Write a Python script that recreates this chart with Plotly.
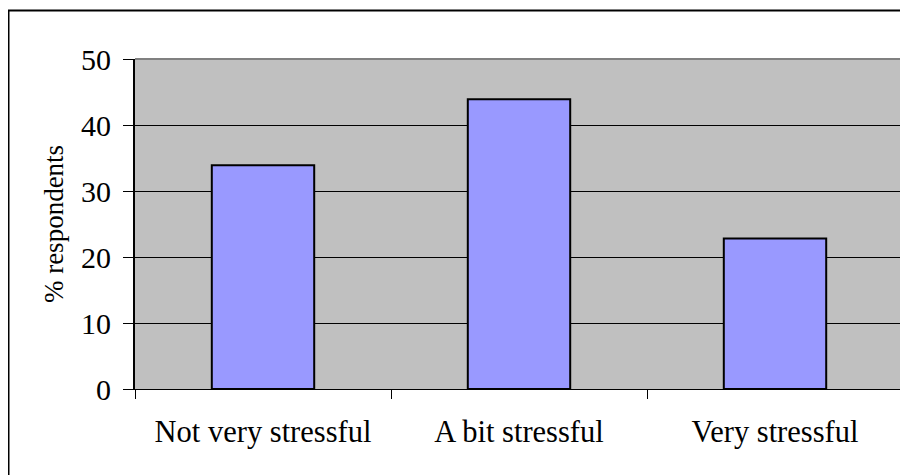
import plotly.graph_objects as go

categories = ["Not very stressful", "A bit stressful", "Very stressful"]
values = [33.9, 43.9, 22.8]
y_ticks = [0, 10, 20, 30, 40, 50]
y_title = "% respondents"

OFF = 8  # default page body margin
W, H = 908 - OFF, 475 - OFF
L, R, T, B = 135 - OFF, 5, 59 - OFF, 86
pw, ph = W - L - R, H - T - B

def px(x):
    return (x - OFF - L) / pw

def py(y):
    return (H - B - (y - OFF)) / ph

fig = go.Figure(go.Bar(
    x=categories, y=values,
    marker=dict(color="#9999FF", line=dict(color="black", width=2)),
    width=0.4,
))

font = dict(family="Liberation Serif, Times New Roman, serif", color="black")

fig.update_layout(
    width=W, height=H,
    margin=dict(l=L, r=R, t=T, b=B),
    paper_bgcolor="white",
    plot_bgcolor="#C0C0C0",
    showlegend=False,
    font=font,
    xaxis=dict(
        showgrid=False, showline=True, linecolor="black", linewidth=1,
        ticks="outside", tickson="boundaries", ticklen=9, tickcolor="black",
        tickfont=dict(size=30.5, **font), ticklabelstandoff=15,
    ),
    yaxis=dict(
        range=[0, 50], tickvals=y_ticks, showgrid=True, gridcolor="black", gridwidth=1,
        showline=True, linecolor="black", linewidth=2,
        ticks="outside", ticklen=10, tickcolor="black",
        tickfont=dict(size=30, **font), ticklabelstandoff=6,
        title=dict(text=y_title, font=dict(size=27, **font), standoff=10),
        zeroline=False,
    ),
    shapes=[
        dict(type="line", xref="paper", yref="paper", x0=0, x1=1, y0=1, y1=1,
             line=dict(color="#808080", width=2), layer="above"),
        dict(type="line", xref="paper", yref="paper", x0=1, x1=1, y0=0, y1=1,
             line=dict(color="#808080", width=2), layer="above"),
        dict(type="rect", xref="paper", yref="paper",
             x0=px(8.5), x1=px(908 + 5), y0=py(475 + 5), y1=py(10.5),
             line=dict(color="black", width=2), layer="above"),
    ],
)

fig.write_html("out.html")
